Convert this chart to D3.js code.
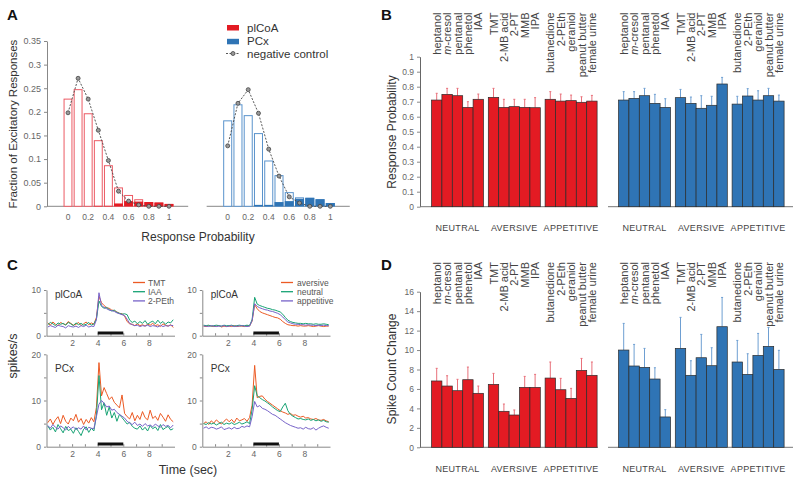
<!DOCTYPE html>
<html lang="en">
<head>
<meta charset="utf-8">
<title>plCoA vs PCx odor responses</title>
<style type="text/css">
    body { margin: 0; background: white; }
    svg { font-family: "Liberation Sans", Arial, Helvetica, sans-serif; }
    .tick text { fill: #666; }
    .lbl { fill: #333; }
</style>
<script type="text/javascript" src="https://d3js.org/d3.v7.min.js"></script>
</head>
<body>
<script type="text/javascript">
// ---------- data ----------
// A: histograms of response probability
let probBins = [0, 0.1, 0.2, 0.3, 0.4, 0.5, 0.6, 0.7, 0.8, 0.9, 1];
let plcoaAll = [0.228, 0.248, 0.197, 0.140, 0.087, 0.040, 0.024, 0.015, 0.009, 0.008, 0.005];
let plcoaSig = [0, 0, 0, 0.001, 0.001, 0.006, 0.011, 0.010, 0.009, 0.008, 0.005];
let plcoaNeg = [0.198, 0.271, 0.227, 0.161, 0.097, 0.032, 0.011, 0.003, 0, 0, 0];
let pcxAll = [0.182, 0.216, 0.193, 0.155, 0.097, 0.066, 0.030, 0.019, 0.018, 0.015, 0.007];
let pcxSig = [0, 0, 0, 0.003, 0.003, 0.009, 0.011, 0.016, 0.018, 0.015, 0.007];
let pcxNeg = [0.128, 0.218, 0.247, 0.197, 0.121, 0.064, 0.020, 0.007, 0, 0, 0];
let histTicks = [0, 0.2, 0.4, 0.6, 0.8, 1];
let fracTicks = [0, 0.05, 0.1, 0.15, 0.2, 0.25, 0.3, 0.35];

// B, D: per-odor bars
let odorGroups = ["NEUTRAL", "AVERSIVE", "APPETITIVE"];
let odors = ["heptanol", "m-cresol", "pentanal", "phenetol", "IAA",
             "TMT", "2-MB acid", "2-PT", "MMB", "IPA",
             "butanedione", "2-PEth", "geraniol", "peanut butter", "female urine"];
let respPlcoa = [0.711, 0.749, 0.740, 0.662, 0.716, 0.729, 0.662, 0.667, 0.662, 0.660, 0.716, 0.704, 0.707, 0.696, 0.704];
let respPlcoaSem = [0.045, 0.040, 0.049, 0.038, 0.035, 0.060, 0.054, 0.049, 0.054, 0.067, 0.051, 0.047, 0.037, 0.037, 0.038];
let respPcx = [0.711, 0.722, 0.740, 0.689, 0.662, 0.727, 0.689, 0.656, 0.676, 0.818, 0.684, 0.738, 0.711, 0.740, 0.704];
let respPcxSem = [0.056, 0.045, 0.049, 0.060, 0.058, 0.055, 0.042, 0.084, 0.060, 0.044, 0.052, 0.049, 0.062, 0.049, 0.040];
let respTicks = [0, 0.1, 0.2, 0.3, 0.4, 0.5, 0.6, 0.7, 0.8, 0.9, 1];

let spkPlcoa = [6.82, 6.30, 5.82, 6.95, 5.55, 6.47, 3.70, 3.32, 6.16, 6.16, 7.12, 5.92, 5.03, 7.91, 7.40];
let spkPlcoaSem = [1.30, 1.06, 1.17, 1.30, 0.75, 1.13, 0.75, 0.52, 1.13, 1.34, 1.65, 1.17, 1.03, 1.23, 1.37];
let spkPcx = [10.0, 8.36, 8.22, 7.02, 3.12, 10.17, 7.40, 9.21, 8.39, 12.40, 8.77, 7.50, 9.45, 10.38, 8.01];
let spkPcxSem = [2.74, 2.22, 1.95, 1.16, 0.75, 3.19, 1.50, 2.40, 1.85, 3.01, 2.22, 2.12, 2.26, 1.95, 1.96];
let spkTicks = [0, 2, 4, 6, 8, 10, 12, 14, 16];

// C: PSTHs, 0.2 s bins from 0 to 10 s
let psthNames1 = ["TMT", "IAA", "2-PEth"];
let psthNames2 = ["aversive", "neutral", "appetitive"];
let plcoaTMT = [2.8,2.3,3.0,2.5,2.2,2.9,2.6,2.4,3.1,2.7, 2.3,2.5,2.9,2.2,2.6,3.0,2.4,2.8,2.5,4.0,
                8.6,7.2,6.6,6.1,6.0,5.6,5.5,5.2,4.9,4.8, 4.3,3.1,2.6,2.5,2.2,2.6,2.2,2.4,2.1,2.5,
                2.3,2.7,2.2,2.4,2.0,2.6,2.3,2.1,2.4,1.8];
let plcoaIAA = [2.4,2.9,2.6,2.2,2.8,2.5,2.7,2.3,2.9,2.6, 2.2,2.8,2.4,2.7,2.3,2.5,2.9,2.3,2.6,3.6,
                7.6,6.4,6.0,6.2,5.7,5.4,5.6,5.1,4.9,4.7, 4.8,4.6,3.4,2.9,3.2,2.6,3.1,2.7,3.3,2.5,
                2.9,3.2,2.6,3.4,2.7,3.1,2.5,3.0,2.8,3.5];
let plcoaPEth = [1.9,2.2,2.0,1.8,2.3,2.1,2.0,1.7,2.2,2.0, 1.9,2.1,1.8,2.2,2.0,2.3,1.9,2.1,2.0,3.5,
                 9.4,6.6,6.2,5.9,5.6,5.5,5.3,5.0,4.8,4.6, 4.4,3.6,2.7,2.4,2.2,2.3,2.0,2.2,2.1,2.3,
                 2.0,2.2,2.1,1.9,2.3,2.0,2.2,2.1,2.3,2.2];
let pcxTMT = [5.2,6.0,4.8,5.8,6.5,5.0,6.8,5.5,4.9,6.2, 5.6,7.0,5.3,6.1,4.8,5.9,5.1,6.3,5.4,8.5,
              18.2,11.0,12.8,11.5,10.2,10.8,9.6,9.0,8.4,11.2, 7.2,6.5,6.0,7.4,5.6,6.8,5.9,7.6,6.3,5.8,
              7.9,6.1,6.6,5.7,7.2,6.4,5.5,6.9,5.9,5.4];
let pcxIAA = [4.5,3.6,4.2,3.2,4.8,3.9,3.0,4.4,3.5,3.8, 2.9,4.1,3.3,2.4,3.8,4.3,3.1,4.0,3.4,6.8,
              15.4,8.0,9.5,6.8,8.6,6.2,7.4,5.5,7.0,6.3, 5.6,4.9,5.3,4.4,4.0,3.8,4.5,3.6,4.2,3.4,
              4.6,3.9,4.3,3.5,4.8,3.7,4.1,4.4,3.6,3.9];
let pcxPEth = [4.6,4.0,4.8,4.2,3.8,4.5,4.1,3.6,4.4,3.9, 4.3,3.7,4.1,3.8,4.5,3.6,4.2,4.0,3.9,6.5,
               9.2,10.0,9.4,8.6,8.8,7.9,8.1,7.4,7.0,6.6, 6.2,5.5,5.1,4.8,5.3,4.6,4.9,4.4,5.0,4.5,
               4.7,4.3,4.9,4.5,4.2,4.8,4.4,4.6,4.1,4.7];
let plcoaAv = [2.1,2.0,2.2,2.1,2.0,2.1,2.2,1.9,2.1,2.0, 2.1,2.0,2.2,2.0,2.1,2.1,2.0,2.2,2.1,3.2,
               6.8,5.9,5.3,5.0,4.8,4.6,4.4,4.2,4.0,3.9, 3.6,3.1,2.7,2.4,2.3,2.2,2.2,2.1,2.2,2.1,
               2.1,2.2,2.1,2.0,2.1,2.2,2.1,2.0,2.1,2.1];
let plcoaNeu = [2.3,2.2,2.3,2.1,2.2,2.3,2.2,2.1,2.3,2.2, 2.2,2.3,2.1,2.2,2.3,2.2,2.2,2.3,2.2,3.5,
                8.4,6.9,6.6,6.4,6.2,6.0,5.9,5.7,5.6,5.4, 5.2,4.7,4.0,3.4,3.1,2.9,2.8,2.7,2.7,2.6,
                2.7,2.6,2.6,2.5,2.6,2.5,2.5,2.6,2.5,2.4];
let plcoaApp = [2.1,2.1,2.0,2.2,2.1,2.0,2.1,2.1,2.2,2.0, 2.1,2.2,2.0,2.1,2.1,2.2,2.1,2.0,2.1,3.3,
                7.0,6.4,6.1,5.9,5.7,5.6,5.4,5.3,5.1,4.9, 4.6,4.1,3.5,3.0,2.8,2.6,2.5,2.5,2.4,2.4,
                2.3,2.4,2.3,2.3,2.2,2.3,2.2,2.3,2.2,2.2];
let pcxAv = [5.0,5.4,4.8,5.6,5.1,5.8,5.3,4.9,5.5,6.0, 5.4,5.9,5.2,6.2,5.6,5.8,6.1,5.5,6.3,9.0,
             17.6,10.6,10.9,11.0,10.3,9.8,9.4,9.0,8.6,8.2, 7.8,7.5,7.3,7.0,7.2,6.8,6.9,6.6,6.4,6.6,
             6.2,6.3,6.0,5.9,6.1,5.8,5.7,5.9,5.6,5.4];
let pcxNeu = [5.0,4.8,5.2,4.9,5.1,4.7,5.0,5.3,4.8,5.1, 4.9,5.2,4.8,5.0,5.3,4.9,5.1,5.4,5.0,8.0,
              13.2,11.0,10.6,10.2,9.9,9.5,9.1,8.6,8.2,7.8, 7.6,8.6,9.4,7.8,7.0,6.6,6.3,6.0,6.1,5.9,
              5.8,6.0,5.7,5.9,5.6,5.8,5.5,5.7,5.4,5.3];
let pcxApp = [4.0,4.3,3.9,4.2,4.1,3.8,4.0,4.3,3.7,3.9, 4.1,3.8,4.2,3.9,4.0,4.4,4.2,4.5,4.3,6.5,
              9.8,8.6,8.9,8.3,8.1,7.8,7.4,7.0,6.8,6.4, 6.0,5.6,5.2,4.9,4.6,4.4,4.2,4.0,4.1,3.8,
              4.2,3.9,3.8,4.1,3.6,4.0,4.3,4.5,4.2,4.0];
let timeTicks = [2, 4, 6, 8];
let odorWindow = [4, 6];

// ---------- drawing ----------
let w = 800, h = 484;
let red = "#e31b23", redLine = "#ec5a64", redErr = "#e8707a";
let blue = "#2f74b5", blueLine = "#5a93cc", blueErr = "#6e9fd2";
let traceCols = ["#ec5a24", "#17a374", "#7763c9"];

let svg = d3.select("body").append("svg")
    .attr("width", w)
    .attr("height", h)
    .style("background-color", "white");

function panelLetter(t, x, y) {
    svg.append("text").text(t).attr("x", x).attr("y", y)
        .attr("font-size", 15).attr("font-weight", "bold").attr("fill", "#111");
}
function vTitle(t, x, y, size) {
    svg.append("text").text(t)
        .attr("transform", "translate(" + x + "," + y + ") rotate(-90)")
        .attr("text-anchor", "middle").attr("font-size", size).attr("class", "lbl");
}
function styleAxis(g, size) {
    g.attr("font-family", null).attr("font-size", size);
    g.selectAll("path.domain").attr("stroke", "#888");
    g.selectAll(".tick line").attr("stroke", "#888");
}

// ----- A -----
panelLetter("A", 7, 20);
let yA = d3.scaleLinear().domain([0, 0.35]).range([206.3, 41]);
let xAL = d3.scaleLinear().domain([0, 1]).range([68, 169]);
let xAR = d3.scaleLinear().domain([0, 1]).range([227.7, 330.3]);
let binW = 0.088;

let gAy = svg.append("g").attr("transform", "translate(47,0)")
    .call(d3.axisLeft(yA).tickValues(fracTicks).tickSize(3).tickSizeOuter(0)
        .tickFormat(d => String(+d.toFixed(2))));
styleAxis(gAy, 9);

function histPanel(x, all, sig, neg, lineCol, fillCol) {
    let g = svg.append("g");
    g.append("line")
        .attr("x1", x(-0.205)).attr("x2", x(1.19))
        .attr("y1", yA(0)).attr("y2", yA(0))
        .attr("stroke", "#888");
    g.selectAll("rect.all").data(all).enter().append("rect")
        .attr("x", (d, i) => x(probBins[i] - binW / 2) + 0.5)
        .attr("width", x(binW) - x(0) - 1)
        .attr("y", d => yA(d) + 0.5)
        .attr("height", d => Math.max(0, yA(0) - yA(d) - 0.5))
        .attr("fill", "white")
        .attr("stroke", lineCol)
        .attr("stroke-width", 1);
    g.selectAll("rect.sig").data(sig).enter().append("rect")
        .attr("x", (d, i) => x(probBins[i] - binW / 2))
        .attr("width", x(binW) - x(0))
        .attr("y", d => yA(d))
        .attr("height", d => yA(0) - yA(d))
        .attr("fill", fillCol);
    let line = d3.line().x((d, i) => x(probBins[i])).y(d => yA(d));
    g.append("path").datum(neg)
        .attr("d", line)
        .attr("fill", "none")
        .attr("stroke", "#444")
        .attr("stroke-width", 0.9)
        .attr("stroke-dasharray", "2,1.5");
    g.selectAll("circle").data(neg).enter().append("circle")
        .attr("cx", (d, i) => x(probBins[i]))
        .attr("cy", d => yA(d))
        .attr("r", 2)
        .attr("fill", "#999")
        .attr("stroke", "#444")
        .attr("stroke-width", 0.8);
    g.selectAll("text").data(histTicks).enter().append("text")
        .text(d => String(d))
        .attr("x", d => x(d))
        .attr("y", 219.5)
        .attr("text-anchor", "middle")
        .attr("font-size", 8.5)
        .attr("fill", "#666");
}
histPanel(xAL, plcoaAll, plcoaSig, plcoaNeg, redLine, red);
histPanel(xAR, pcxAll, pcxSig, pcxNeg, blueLine, blue);

vTitle("Fraction of Excitatory Responses", 16.5, 124, 11.5);
svg.append("text").text("Response Probability")
    .attr("x", 198).attr("y", 241).attr("text-anchor", "middle")
    .attr("font-size", 12).attr("class", "lbl");

// legend A
let legA = svg.append("g");
legA.append("rect").attr("x", 227).attr("y", 25).attr("width", 12).attr("height", 5.5).attr("fill", red);
legA.append("rect").attr("x", 227).attr("y", 38.8).attr("width", 12).attr("height", 5.5).attr("fill", blue);
legA.append("line").attr("x1", 226).attr("x2", 240).attr("y1", 53.5).attr("y2", 53.5)
    .attr("stroke", "#444").attr("stroke-width", 0.9).attr("stroke-dasharray", "2,1.5");
legA.append("circle").attr("cx", 233).attr("cy", 53.5).attr("r", 2)
    .attr("fill", "#999").attr("stroke", "#444").attr("stroke-width", 0.8);
[["plCoA", 31.5], ["PCx", 45.3], ["negative control", 58]].forEach(function (d) {
    legA.append("text").text(d[0]).attr("x", 247).attr("y", d[1])
        .attr("font-size", 11.5).attr("class", "lbl");
});

// ----- B and D -----
let barW = 10.4, groupGap = 4.8;
function barX(x0, i) {
    let gi = Math.floor(i / 5);
    return x0 + i * barW + gi * groupGap;
}

function barPanel(y, ticks, tickFmt, vals1, sems1, vals2, sems2, labelTop, groupY) {
    let y0 = y(0);
    let gy = svg.append("g").attr("transform", "translate(420,0)")
        .call(d3.axisLeft(y).tickValues(ticks).tickSize(3).tickSizeOuter(0).tickFormat(tickFmt));
    styleAxis(gy, 8.5);
    gy.selectAll("path.domain").attr("stroke", "#666");

    svg.append("line").attr("x1", 420).attr("x2", 598).attr("y1", y0).attr("y2", y0)
        .attr("stroke", "#777");
    svg.append("line").attr("x1", 608).attr("x2", 793).attr("y1", y0).attr("y2", y0)
        .attr("stroke", "#777");

    [[431.5, vals1, sems1, red, redErr], [618.5, vals2, sems2, blue, blueErr]].forEach(function (s) {
        let x0 = s[0];
        let g = svg.append("g");
        g.selectAll("line.err").data(s[1]).enter().append("line")
            .attr("x1", (d, i) => barX(x0, i) + barW / 2)
            .attr("x2", (d, i) => barX(x0, i) + barW / 2)
            .attr("y1", d => y(d))
            .attr("y2", (d, i) => y(d + s[2][i]))
            .attr("stroke", s[4]).attr("stroke-width", 1);
        g.selectAll("line.cap").data(s[1]).enter().append("line")
            .attr("x1", (d, i) => barX(x0, i) + barW / 2 - 1)
            .attr("x2", (d, i) => barX(x0, i) + barW / 2 + 1)
            .attr("y1", (d, i) => y(d + s[2][i]))
            .attr("y2", (d, i) => y(d + s[2][i]))
            .attr("stroke", s[4]).attr("stroke-width", 1);
        g.selectAll("rect").data(s[1]).enter().append("rect")
            .attr("x", (d, i) => barX(x0, i))
            .attr("width", barW)
            .attr("y", d => y(d))
            .attr("height", d => y0 - y(d))
            .attr("fill", s[3])
            .attr("stroke", "#2b2b2b")
            .attr("stroke-width", 0.7);

        // odor names, rotated, aligned at top
        odors.forEach(function (name, i) {
            let tx = barX(x0, i) + barW / 2 + 4;
            let t = g.append("text")
                .attr("transform", "translate(" + tx + "," + labelTop + ") rotate(-90)")
                .attr("text-anchor", "end")
                .attr("font-size", 11)
                .attr("fill", "#444");
            if (name === "m-cresol") {
                t.append("tspan").attr("font-style", "italic").text("m");
                t.append("tspan").text("-cresol");
            } else {
                t.text(name);
            }
        });
        odorGroups.forEach(function (gname, gi) {
            g.append("text").text(gname)
                .attr("x", barX(x0, gi * 5) + 2.5 * barW)
                .attr("y", groupY)
                .attr("text-anchor", "middle")
                .attr("font-size", 9)
                .attr("letter-spacing", 0.3)
                .attr("fill", "#444");
        });
    });
}

panelLetter("B", 381, 20);
let yB = d3.scaleLinear().domain([0, 1]).range([206.7, 56.7]);
barPanel(yB, respTicks, d => String(+d.toFixed(1)), respPlcoa, respPlcoaSem, respPcx, respPcxSem, 12.5, 230.5);
vTitle("Response Probability", 396, 132, 12);

panelLetter("D", 381, 270);
let yD = d3.scaleLinear().domain([0, 16]).range([447.3, 291.7]);
barPanel(yD, spkTicks, d => String(d), spkPlcoa, spkPlcoaSem, spkPcx, spkPcxSem, 262, 472);
vTitle("Spike Count Change", 396, 369, 12);

// ----- C -----
panelLetter("C", 7, 270);
let xCL = d3.scaleLinear().domain([0, 10]).range([46.5, 174.5]);
let xCR = d3.scaleLinear().domain([0, 10]).range([202.3, 330]);
let yCtop = d3.scaleLinear().domain([0, 10]).range([335.7, 290]);
let yCbot = d3.scaleLinear().domain([0, 20]).range([446.7, 354.3]);

function psth(x, y, series, yLabelTicks, yMinorTicks, name, nameY) {
    let g = svg.append("g");
    let gx = g.append("g").attr("transform", "translate(0," + y(0) + ")")
        .call(d3.axisBottom(x).tickValues(d3.range(1, 10)).tickSize(-2.5).tickSizeOuter(0)
            .tickFormat(d => timeTicks.indexOf(d) >= 0 ? String(d) : ""));
    styleAxis(gx, 8.5);
    gx.selectAll(".tick text").attr("dy", "0.9em");
    let gy = g.append("g").attr("transform", "translate(" + x(0) + ",0)")
        .call(d3.axisLeft(y).tickValues(yMinorTicks).tickSize(2.5).tickSizeOuter(0)
            .tickFormat(d => yLabelTicks.indexOf(d) >= 0 ? String(d) : ""));
    styleAxis(gy, 8.5);

    g.append("rect")
        .attr("x", x(odorWindow[0])).attr("width", x(odorWindow[1]) - x(odorWindow[0]))
        .attr("y", y(0) - 4.2).attr("height", 3)
        .attr("fill", "#111");

    let line = d3.line().x((d, i) => x(0.1 + 0.2 * i)).y(d => y(d));
    series.forEach(function (s, k) {
        g.append("path").datum(s)
            .attr("d", line)
            .attr("fill", "none")
            .attr("stroke", traceCols[k])
            .attr("stroke-width", 1)
            .attr("stroke-linejoin", "round");
    });
    g.append("text").text(name)
        .attr("x", x(0) + 8.5).attr("y", nameY)
        .attr("font-size", 10).attr("fill", "#333");
}

psth(xCL, yCtop, [plcoaTMT, plcoaIAA, plcoaPEth], [0, 10], [0, 5, 10], "plCoA", 297.5);
psth(xCL, yCbot, [pcxTMT, pcxIAA, pcxPEth], [0, 10, 20], [0, 5, 10, 15, 20], "PCx", 371.5);
psth(xCR, yCtop, [plcoaAv, plcoaNeu, plcoaApp], [0, 10], [0, 5, 10], "plCoA", 297.5);
psth(xCR, yCbot, [pcxAv, pcxNeu, pcxApp], [0, 10, 20], [0, 5, 10, 15, 20], "PCx", 371.5);

function traceLegend(x1, tx, names) {
    names.forEach(function (n, k) {
        let yy = 282.5 + k * 9.2;
        svg.append("line").attr("x1", x1).attr("x2", x1 + 12).attr("y1", yy).attr("y2", yy)
            .attr("stroke", traceCols[k]).attr("stroke-width", 1.3);
        svg.append("text").text(n).attr("x", tx).attr("y", yy + 3)
            .attr("font-size", 8.5).attr("fill", "#555");
    });
}
traceLegend(133, 148, psthNames1);
traceLegend(281, 297, psthNames2);

vTitle("spikes/s", 16.5, 356, 12.5);
svg.append("text").text("Time (sec)")
    .attr("x", 188).attr("y", 474).attr("text-anchor", "middle")
    .attr("font-size", 12.5).attr("class", "lbl");
</script>
</body>
</html>
